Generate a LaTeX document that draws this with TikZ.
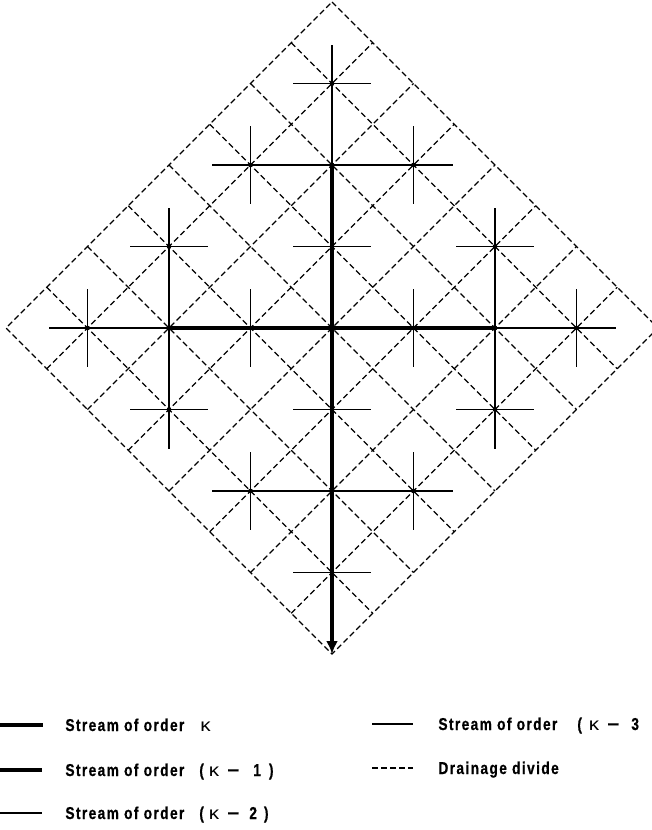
\documentclass[tikz,border=0pt]{standalone}
\usepackage{fontspec}
\usetikzlibrary{arrows.meta}
\newfontfamily\legfont{Liberation Sans}[FakeStretch=0.8, LetterSpace=8, BoldFeatures={FakeBold=0.6}]
\newcommand{\gp}[1]{\hspace{#1pt}}
\newcommand{\kap}{\scalebox{1.5}[1.05]{\mdseries κ}}
\newcommand{\mns}{\scalebox{1.5}[1]{−}}
\begin{document}
\begin{tikzpicture}[x=0.5pt,y=-0.5pt,
  divide/.style={line width=0.55pt, dash pattern=on 2.9pt off 1.6pt},
  ordA/.style={line width=2.4pt},
  ordB/.style={line width=1.7pt},
  ordC/.style={line width=1.15pt},
  ordD/.style={line width=0.7pt},
  junc/.style={fill=black, circle, inner sep=0pt, minimum size=2.4pt},
  legtext/.style={anchor=base west, inner sep=0pt, font=\legfont\bfseries\fontsize{8.6}{10.3}\selectfont}]
\useasboundingbox (0,0) rectangle (652,830);
\clip (0,0) rectangle (652,830);
\def\s{81.5}\def\cx{332}\def\cy{328}\def\a{39}
% diamond corners
\coordinate (top) at (\cx,{\cy-4*\s});
\coordinate (bot) at (\cx,{\cy+4*\s});
\coordinate (lft) at ({\cx-4*\s},\cy);
\coordinate (rgt) at ({\cx+4*\s},\cy);
% drainage divides
\draw[divide] (top) -- (rgt) -- (bot) -- (lft) -- cycle;
\foreach \k in {-3,...,3}{
  \draw[divide] ({\cx+(\k-4)*\s/2},{\cy+(\k+4)*\s/2}) -- ({\cx+(\k+4)*\s/2},{\cy+(\k-4)*\s/2});
  \draw[divide] ({\cx+(\k-4)*\s/2},{\cy+(-4-\k)*\s/2}) -- ({\cx+(\k+4)*\s/2},{\cy+(4-\k)*\s/2});
}
% junctions
\foreach \nm/\i/\j in {c/0/0, t3/0/-3, t2/0/-2, t1/0/-1, b1/0/1, b2/0/2, b3/0/3,
  l1/-1/0, l2/-2/0, l3/-3/0, r1/1/0, r2/2/0, r3/3/0,
  tl/-1/-2, tr/1/-2, bl/-1/2, br/1/2, lu/-2/-1, ld/-2/1, ru/2/-1, rd/2/1}
  {\coordinate (\nm) at ({\cx+\i*\s},{\cy+\j*\s});}
% order k-3 arms
\foreach \nm in {t3,tl,tr,l1,r1,l3,r3,lu,ru,bl,br}
  {\path (\nm) ++(0,-\a) coordinate (\nm U); \draw[ordD] (\nm) -- (\nm U);}
\foreach \nm in {tl,tr,l1,r1,l3,r3,ld,rd,bl,br}
  {\path (\nm) ++(0,\a) coordinate (\nm D); \draw[ordD] (\nm) -- (\nm D);}
\foreach \nm in {t3,tl,t1,l3,lu,ru,ld,rd,b1,b3,bl}
  {\path (\nm) ++(-\a,0) coordinate (\nm L); \draw[ordD] (\nm) -- (\nm L);}
\foreach \nm in {t3,tr,t1,r3,lu,ru,ld,rd,b1,b3,br}
  {\path (\nm) ++(\a,0) coordinate (\nm R); \draw[ordD] (\nm) -- (\nm R);}
% order k-2
\draw[ordC] (t3) -- (t2);
\draw[ordC] (tl) -- (t2) -- (tr);
\draw[ordC] (lu) -- (l2) -- (ld);
\draw[ordC] (l3) -- (l2);
\draw[ordC] (ru) -- (r2) -- (rd);
\draw[ordC] (r2) -- (r3);
\draw[ordC] (bl) -- (b2) -- (br);
% order k-1
\draw[ordB] (t2) -- (c);
\draw[ordB] (l2) -- (c) -- (r2);
% order k
\draw[ordA, -{Latex[length=6.5pt,width=6pt]}] (c) -- (bot);
\foreach \nm in {c,t3,t2,t1,b1,b2,b3,l1,l2,l3,r1,r2,r3,tl,tr,bl,br,lu,ld,ru,rd}
  {\node[junc] at (\nm) {};}
% legend
\coordinate (k0a) at (0,725); \coordinate (k0b) at (43,725);
\coordinate (k1a) at (0,770); \coordinate (k1b) at (42,770);
\coordinate (k2a) at (0,813); \coordinate (k2b) at (42,813);
\coordinate (k3a) at (372,724); \coordinate (k3b) at (413,724);
\coordinate (dva) at (372,768); \coordinate (dvb) at (413,768);
\draw[ordA] (k0a) -- (k0b);
\draw[ordB] (k1a) -- (k1b);
\draw[ordC] (k2a) -- (k2b);
\draw[ordD] (k3a) -- (k3b);
\draw[divide] (dva) -- (dvb);
\node[legtext] (t0) at (65,731) {Stream of order\gp{8}\kap};
\node[legtext] (t1x) at (65,776) {Stream of order\gp{7.5}(\gp{2.5}\kap\gp{4}\mns\gp{7}1\gp{4})};
\node[legtext] (t2x) at (65,819) {Stream of order\gp{7.5}(\gp{2.5}\kap\gp{4}\mns\gp{5}2\gp{3.5})};
\node[legtext] (t3x) at (438,730) {Stream of order\gp{10}(\gp{3.5}\kap\gp{4}\mns\gp{6}3};
\node[legtext] (tdv) at (438,774) {Drainage divide};
\end{tikzpicture}
\end{document}
